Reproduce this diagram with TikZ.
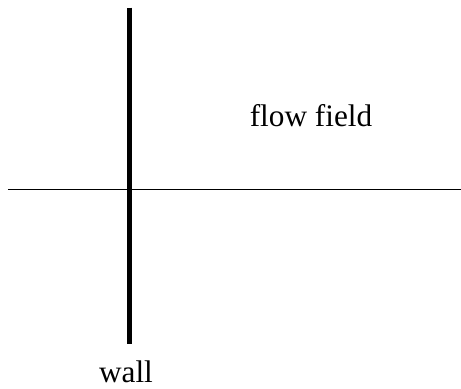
\documentclass[tikz,border=0pt]{standalone}
\usepackage{fontspec}
\setmainfont{Liberation Serif}
\usetikzlibrary{positioning}
\tikzset{
    label/.style={
        anchor=base,
        inner sep=0pt,
        font=\fontsize{17.8}{20}\selectfont
    },
    wallline/.style={line width=2.85pt, color=black},
    axisline/.style={line width=1.1pt, color=black}
}

\begin{document}
\begin{tikzpicture}[x=0.02cm, y=-0.02cm]
    \useasboundingbox (0,0) rectangle (461,389);
    
    % Wall
    \coordinate (walltop) at (129.5,7.5);
    \coordinate (wallbot) at (129.5,344);
    
    % Axis
    \coordinate (axisleft) at (8,189.5);
    \coordinate (axisright) at (461,189.5);
    
    % Labels
    \node[label] (flow) at (311,126) {flow field};
    \node[label] (wall) at (126,382) {wall};
    
    % Lines
    \draw[axisline] (axisleft) -- (axisright);
    \draw[wallline] (walltop) -- (wallbot);
\end{tikzpicture}
\end{document}
